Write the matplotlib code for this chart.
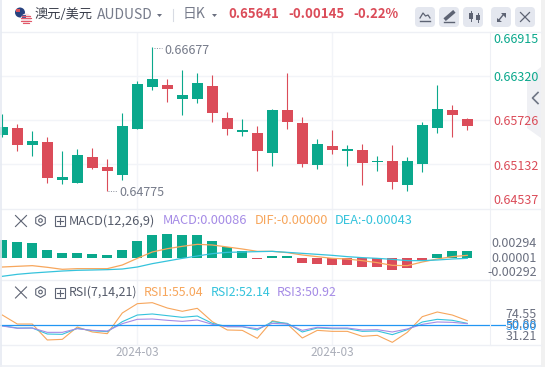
import matplotlib
matplotlib.use("Agg")
import matplotlib.pyplot as plt
from matplotlib.patches import Polygon, Rectangle, Circle, RegularPolygon, FancyBboxPatch

W, H = 545, 367
GREEN = "#0aa88c"
RED = "#db4c59"
GRID = "#f2f4f8"
ORANGE = "#f7a65c"
CYAN = "#35c3dc"
PURPLE = "#a58be6"
BLUE = "#2196f3"
GRAY = "#6b7080"
ICON = "#5d6373"

# candles: open, high, low, close
opens = [0.65528, 0.65623, 0.65393, 0.65434, 0.64921, 0.64880, 0.65231, 0.65096,
         0.64988, 0.65609, 0.66176, 0.66203, 0.66014, 0.66014, 0.66190, 0.65758,
         0.65569, 0.65555, 0.65285, 0.65866, 0.65690, 0.65123, 0.65380, 0.65312,
         0.65326, 0.65168, 0.65177, 0.64853, 0.65137, 0.65623, 0.65866, 0.65744]
highs = [0.65812, 0.65677, 0.65582, 0.65501, 0.65312, 0.65339, 0.65353, 0.65204,
         0.65825, 0.66257, 0.66712, 0.66284, 0.66406, 0.66365, 0.66338, 0.65839,
         0.65744, 0.65650, 0.65879, 0.66365, 0.65771, 0.65474, 0.65596, 0.65393,
         0.65407, 0.65245, 0.65393, 0.65231, 0.65704, 0.66203, 0.65933, 0.65758]
lows = [0.65501, 0.65312, 0.65245, 0.64880, 0.64867, 0.64880, 0.65069, 0.64775,
        0.64921, 0.65609, 0.66136, 0.65974, 0.65798, 0.65960, 0.65704, 0.65528,
        0.65515, 0.65042, 0.65110, 0.65609, 0.65096, 0.65069, 0.65272, 0.65110,
        0.64853, 0.65042, 0.64799, 0.64772, 0.65028, 0.65555, 0.65501, 0.65596]
closes = [0.65636, 0.65393, 0.65447, 0.64948, 0.64961, 0.65258, 0.65083, 0.65042,
          0.65650, 0.66217, 0.66284, 0.66149, 0.66068, 0.66230, 0.65825, 0.65609,
          0.65596, 0.65312, 0.65866, 0.65704, 0.65137, 0.65407, 0.65326, 0.65339,
          0.65150, 0.65177, 0.64893, 0.65177, 0.65663, 0.65879, 0.65798, 0.65650]

macd_hist = [0.0035, 0.0031, 0.0029, 0.0015, 0.0009, 0.0009, 0.0007, 0.0005,
             0.0015, 0.0033, 0.0045, 0.0047, 0.0045, 0.0045, 0.0033, 0.0021,
             0.0013, -0.0002, 0.0002, 0.0002, -0.0011, -0.0013, -0.0015, -0.0015,
             -0.0019, -0.0019, -0.0025, -0.0021, -0.0007, 0.0007, 0.0013, 0.0013]
dif = [-0.0019, -0.00176, -0.00163, -0.00196, -0.00236, -0.00223, -0.00223, -0.00223,
       -0.0015, -0.00017, 0.0011, 0.00176, 0.00223, 0.00263, 0.0025, 0.0021,
       0.0017, 0.00123, 0.00123, 0.00097, 0.0005, 0.00017, -0.00017, -0.0003,
       -0.00063, -0.00103, -0.00157, -0.00163, -0.0009, -0.0003, 0.00017, 0.00043]
dea = [-0.00376, -0.00336, -0.0031, -0.0029, -0.0027, -0.00256, -0.0025, -0.00243,
       -0.0023, -0.0019, -0.00123, -0.0007, -0.00017, 0.0003, 0.00077, 0.00103,
       0.0011, 0.00117, 0.00123, 0.00103, 0.00083, 0.00063, 0.00043, 0.00017,
       -0.00003, -0.00017, -0.00037, -0.00063, -0.00063, -0.0005, -0.0003, -0.00017]

rsi1 = [69.7, 52.5, 52.5, 22.0, 23.2, 46.8, 37.3, 34.1, 73.6, 91.4, 93.3, 83.1,
        76.8, 82.5, 57.0, 41.1, 40.4, 25.2, 58.9, 52.5, 25.8, 40.4, 38.5, 38.5,
        29.0, 30.9, 17.5, 36.6, 66.6, 75.5, 69.7, 58.9]
rsi2 = [49.4, 44.9, 44.9, 33.4, 32.8, 44.3, 39.8, 37.9, 57.0, 69.7, 71.7, 68.5,
        65.3, 67.8, 53.8, 47.5, 47.5, 41.1, 57.0, 53.8, 37.3, 44.9, 43.6, 43.6,
        38.5, 39.2, 32.2, 41.7, 56.4, 61.5, 59.6, 53.8]
rsi3 = [48.7, 44.3, 44.9, 36.6, 36.6, 43.6, 40.4, 39.2, 53.2, 61.5, 62.1, 59.6,
        57.6, 60.2, 51.9, 47.5, 47.5, 43.6, 53.8, 52.5, 40.4, 46.2, 44.9, 44.9,
        41.1, 41.7, 37.3, 43.0, 51.9, 56.4, 55.7, 53.2]

price_labels = ["0.66915", "0.66320", "0.65726", "0.65132", "0.64537"]
price_grid = [0.66320, 0.65726, 0.65132]
macd_labels = ["0.00294", "0.00001", "-0.00292"]
rsi_labels = ["74.55", "50.88", "50.00", "31.21"]
date_label = "2024-03"
date_idx = [9, 22]


def px_axes(x0, y0, x1, y1):
    # pixel box (top-left origin) -> axes, x unit = pixels
    ax = fig.add_axes([x0 / W, 1 - y1 / H, (x1 - x0) / W, (y1 - y0) / H])
    ax.set_xlim(x0, x1)
    ax.axis("off")
    return ax


def txt(x, y, s, color=GRAY, size=9, ha="left", **kw):
    fig.text(x / W, 1 - y / H, s, color=color, fontsize=size, ha=ha, va="center", zorder=6, **kw)


def pane_icons(y):
    over.plot([15.5, 26.5], [y - 5.5, y + 5.5], color=ICON, lw=0.8)
    over.plot([15.5, 26.5], [y + 5.5, y - 5.5], color=ICON, lw=0.8)
    over.add_patch(RegularPolygon((40.5, y - 0.5), 6, radius=5.5, fill=False, ec=ICON, lw=0.8))
    over.add_patch(Circle((40.5, y - 0.5), 1.8, fill=False, ec=ICON, lw=0.8))
    over.add_patch(Rectangle((55, y - 5), 10, 10, fill=False, ec=ICON, lw=0.8))
    over.plot([57, 63], [y, y], color=ICON, lw=0.8)
    over.plot([60, 60], [y - 3, y + 3], color=ICON, lw=0.8)


plt.rcParams["font.family"] = ["Noto Sans CJK SC", "DejaVu Sans"]
fig = plt.figure(figsize=(W / 100, H / 100), dpi=100, facecolor="white")

xs = [2.3 + 15 * i for i in range(len(opens))]
grid_x = [xs[i] for i in date_idx]

# price pane
ax = px_axes(0, 32, 490, 209)
ax.set_ylim(0.65726 - (209 - 120.3) * 0.000135, 0.65726 + (120.3 - 32) * 0.000135)
for p in price_grid:
    ax.axhline(p, color=GRID, lw=1, zorder=0)
for x in grid_x:
    ax.axvline(x, color=GRID, lw=1, zorder=0)
for x, o, h, l, c in zip(xs, opens, highs, lows, closes):
    col = GREEN if c >= o else RED
    ax.vlines(x, l, h, color=col, lw=0.8, zorder=2)
    ax.bar(x, abs(c - o), bottom=min(o, c), width=11, color=col, zorder=3)

# macd pane
ax2 = px_axes(0, 209, 490, 280)
ax2.set_ylim((157.5 - 225) * 0.0000666, (157.5 - 12) * 0.0000666)
for x in grid_x:
    ax2.axvline(x, color=GRID, lw=1, zorder=0)
ax2.bar(xs, macd_hist, width=10, color=[GREEN if v >= 0 else RED for v in macd_hist], zorder=2)
ax2.plot(xs, dif, color=ORANGE, lw=0.9, zorder=3)
ax2.plot(xs, dea, color=CYAN, lw=0.9, zorder=3)

# rsi pane, the 50 line runs on into the scale
ax3 = px_axes(0, 280, 506, 345)
ax3.set_ylim(50 + (361 - 420) * 0.637, 50 + (361 - 225) * 0.637)
for x in grid_x:
    ax3.axvline(x, color=GRID, lw=1, zorder=0)
ax3.plot(xs, rsi1, color=ORANGE, lw=0.8, zorder=2)
ax3.plot(xs, rsi2, color=CYAN, lw=0.8, zorder=2)
ax3.plot(xs, rsi3, color=PURPLE, lw=0.8, zorder=2)
ax3.axhline(50, color=BLUE, lw=0.9, zorder=3)

# frame, separators
over = fig.add_axes([0, 0, 1, 1], zorder=5)
over.set_xlim(0, W)
over.set_ylim(H, 0)
over.axis("off")
for y in [32, 209, 280, 345]:
    over.plot([1, 541], [y, y], color="#eef0f5", lw=1)
over.plot([490, 490], [32, 345], color="#eef0f5", lw=0.8)
over.plot([0.7, 0.7], [0, H], color="#e6eaf2", lw=1.2)
over.plot([0, 541], [366, 366], color="#eef0f5", lw=1.2)
over.add_patch(Rectangle((541, 0), 4, H, color="#f1f1f1", lw=0))
over.add_patch(Polygon([[527, 78], [541, 67], [541, 138], [527, 128]], color="#eff0f4", lw=0))
over.plot([538, 532.5, 538], [92.5, 98, 103.5], color="#6f7585", lw=1.2)

# flags
over.add_patch(Circle((20, 12.5), 5, color="#27427f", lw=0))
over.add_patch(Rectangle((15.5, 9), 4, 3, color="#d8505c", lw=0))
over.add_patch(Circle((26, 18.5), 5, color="#f3dfe2", lw=0))
for yy, half in zip([15.5, 18, 20.5, 22.5], [3.8, 5, 4.6, 2.8]):
    over.plot([26 - half, 26 + half], [yy, yy], color="#e2596a", lw=0.8)
over.add_patch(Rectangle((22, 14.5), 4, 3.5, color="#4a5a99", lw=0))

# toolbar buttons
for bx in [415, 439, 463, 491, 515]:
    over.add_patch(FancyBboxPatch((bx + 2, 9), 16, 16, boxstyle="round,pad=2,rounding_size=4",
                                  fc="#e4e7ef", ec="none"))
over.plot([420, 423, 425.5, 428, 430], [18, 13, 16, 15, 18], color=ICON, lw=0.9)
over.plot([420, 430], [21, 21], color=ICON, lw=1)
over.plot([446, 453], [18.5, 12.5], color=ICON, lw=2.6)
over.plot([444, 454], [21.5, 21.5], color=ICON, lw=1)
over.plot([470.5, 470.5], [10.5, 21], color=ICON, lw=0.7)
over.plot([477.5, 477.5], [13, 22], color=ICON, lw=0.7)
over.add_patch(Rectangle((468.5, 12.5), 4, 6.5, color=ICON, lw=0))
over.add_patch(Rectangle((475.5, 15), 4, 5, color=ICON, lw=0))
over.plot([499, 503], [20, 15], color=ICON, lw=1)
over.add_patch(Polygon([[501, 13], [505.5, 13], [505.5, 17.5]], color=ICON, lw=0))
over.add_patch(Polygon([[497, 17.5], [497, 22], [501.5, 22]], color=ICON, lw=0))
over.plot([520.5, 529.5], [12.5, 21.5], color=ICON, lw=0.9)
over.plot([520.5, 529.5], [21.5, 12.5], color=ICON, lw=0.9)

# header
txt(35, 14, "澳元/美元", color="#3a3f4b", size=9.5)
txt(97, 15, "AUDUSD", color="#767b8a", size=10)
over.add_patch(Polygon([[157, 14], [162, 14], [159.5, 17]], color=GRAY, lw=0))
over.plot([173, 173], [9, 21], color="#d8dbe3", lw=0.8)
txt(183, 14, "日K", color="#767b8a", size=10)
over.add_patch(Polygon([[212, 14], [217, 14], [214.5, 17]], color=GRAY, lw=0))
txt(228, 14, "0.65641", color=RED, size=9.5, fontweight="bold")
txt(288, 14, "-0.00145", color=RED, size=9.5, fontweight="bold")
txt(353, 14, "-0.22%", color=RED, size=9.5, fontweight="bold")

# price labels
for y, s, c in zip([39.7, 77.7, 121.7, 166.3, 200], price_labels,
                   [GREEN, GREEN, RED, RED, RED]):
    txt(493, y, s, color=c, size=9)

# extreme labels
over.plot([154, 162], [47.5, 47.5], color="#8a8f9c", lw=0.7, ls=(0, (1, 1.5)))
txt(164, 50.5, "0.66677", color="#767b8a", size=9)
over.plot([108, 117], [191, 191], color="#8a8f9c", lw=0.7, ls=(0, (1, 1.5)))
txt(119, 193, "0.64775", color="#767b8a", size=9)

# macd header
pane_icons(221)
txt(69, 221, "MACD(12,26,9)", color="#555b6a", size=9.2)
txt(163, 221, "MACD:0.00086", color=PURPLE, size=9.2)
txt(255, 221, "DIF:-0.00000", color=ORANGE, size=9.2)
txt(335, 221, "DEA:-0.00043", color=CYAN, size=9.2)

# rsi header
pane_icons(292.5)
txt(69, 292, "RSI(7,14,21)", color="#555b6a", size=8.9)
txt(144, 292, "RSI1:55.04", color=ORANGE, size=8.9)
txt(211, 292, "RSI2:52.14", color=CYAN, size=8.9)
txt(277, 292, "RSI3:50.92", color=PURPLE, size=8.9)

# right labels
for y, s in zip([243.5, 258, 273], macd_labels):
    txt(537, y, s, size=9, ha="right")
txt(537, 314.3, rsi_labels[0], size=9, ha="right")
txt(537, 325, rsi_labels[1], size=9, ha="right")
txt(537, 326, rsi_labels[2], color=BLUE, size=9, ha="right")
txt(537, 337, rsi_labels[3], size=9, ha="right")

# date labels
for x in grid_x:
    txt(x, 353, date_label, color="#a9adb8", size=8.5, ha="center")

fig.savefig("out.png", dpi=100)
